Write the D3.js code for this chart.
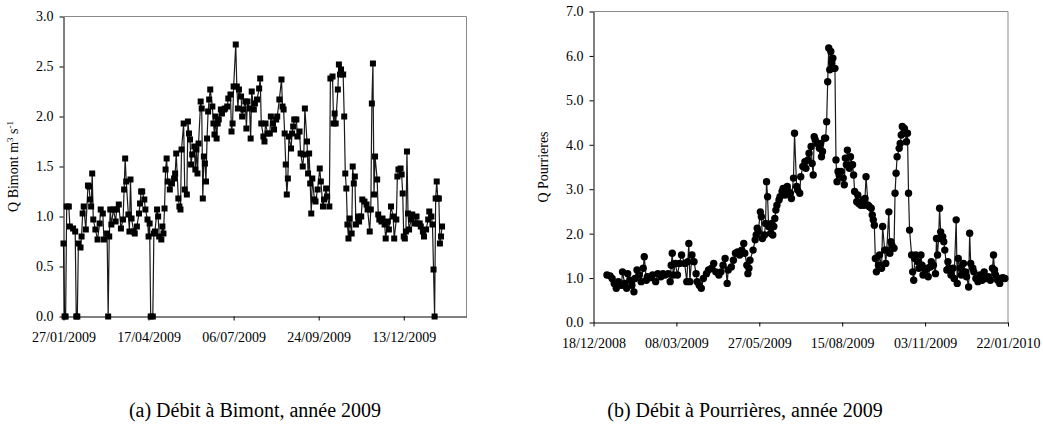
<!DOCTYPE html>
<html><head><meta charset="utf-8">
<script src="https://cdn.jsdelivr.net/npm/d3@7"></script>
<style>
body{margin:0;background:#fff;}
svg text{font-family:"Liberation Serif","Times New Roman",serif;fill:#000;}
</style></head><body>
<svg id="c" width="1043" height="432"></svg>
<script>
// ---- Data: Bimont (days since 27/01/2009, discharge m3/s)
const bimontStart = "2009-01-27";
const bimontDay = [0,1,2,3,5,6,9,11,12,13,14,16,17,18,19,21,23,24,25,26,27,28,30,32,34,35,37,38,41,42,43,44,45,47,49,50,52,54,56,57,58,59,61,62,63,64,66,67,69,71,72,73,74,76,77,79,80,81,82,84,85,86,88,89,90,92,93,94,95,96,97,98,100,102,104,105,106,108,109,110,111,113,114,116,117,118,119,120,121,123,124,125,126,127,129,130,131,132,133,134,135,136,137,138,140,141,142,143,144,145,146,148,149,151,152,154,155,157,158,159,160,162,163,164,165,167,168,169,171,172,173,175,176,177,179,180,182,184,185,186,188,189,190,192,
194,195,197,198,200,201,203,205,206,207,208,209,210,211,212,214,215,216,217,219,220,222,223,225,226,227,229,230,231,232,233,234,236,237,239,241,242,244,245,247,248,250,251,253,254,255,256,258,259,260,261,263,264,265,266,267,268,269,271,272,273,274,275,277,278,280,281,283,285,286,288,289,290,291,292,293,295,296,297,299,300,302,303,305,306,308,310,311,313,314,315,317,318,319,320,321,322,323,324,325,327,328,330,332,333,335,336,338,339,341,343,344,346,347,348,349,350,351,352,353,354,355,356];
const bimontQ = [0.73,0,0,1.1,1.1,0.9,0.88,0.85,0,0,0.73,0.69,0.8,1.03,1.1,0.87,1.31,1.3,1.17,1.1,1.43,0.97,0.87,0.77,0.93,1.07,1.03,0.77,0.83,0,0.8,1.07,0.92,1.07,0.95,1.07,1.12,0.88,0.97,1.27,1.58,1.35,1.02,0.85,1.37,0.98,0.85,0.83,0.9,1.03,1.13,1.25,1.25,1.17,1.07,0.97,0.8,0.93,0,0,0.83,0.85,1.07,1.0,0.8,0.77,0.9,0.83,1.08,1.47,1.58,1.35,1.27,1.33,1.38,1.43,1.63,1.18,1.1,1.07,1.67,1.93,1.27,1.22,1.95,1.83,1.77,1.52,1.62,1.7,1.47,1.67,1.43,1.73,2.15,2.08,1.18,1.6,1.53,1.35,1.78,2.05,2.17,2.27,2.1,1.93,1.82,2.0,1.78,1.93,1.97,2.07,2.03,2.07,2.08,2.1,2.18,2.22,1.85,1.93,2.3,2.72,2.3,2.08,2.27,2.2,2.0,2.07,2.15,1.88,2.15,2.08,1.78,2.25,2.07,2.13,2.17,2.28,2.38,1.93,1.8,1.75,1.93,1.83,
1.83,2.0,1.93,1.87,1.97,2.0,2.17,2.37,2.1,2.07,1.83,1.52,1.22,1.38,1.8,1.68,1.83,1.9,1.97,1.97,1.8,1.85,1.63,1.5,1.62,2.08,1.75,1.43,1.63,1.33,1.03,1.38,1.17,1.15,1.27,1.48,1.35,1.1,1.17,1.28,1.2,1.1,2.38,2.4,1.93,2.03,1.93,2.27,2.52,2.42,2.47,2.42,2.0,1.43,1.28,0.92,0.78,0.98,0.83,1.5,1.33,1.4,0.92,1.0,0.95,1.0,1.17,1.15,1.12,1.07,0.85,1.07,2.13,2.53,1.22,1.6,1.37,1.02,0.97,0.95,0.98,0.92,0.78,0.95,0.87,1.1,1.0,0.78,0.97,1.4,1.47,1.48,1.42,1.23,0.8,0.78,0.85,1.65,1.03,0.87,0.97,1.02,0.93,1.0,0.93,0.93,0.9,0.85,0.8,0.87,0.97,1.05,1.0,0.92,0.47,0,1.18,1.35,1.18,1.18,0.73,0.8,0.9];

// ---- Data: Pourrières (days since 18/12/2008, discharge)
const pourrieresStart = "2008-12-18";
const pourrieresDay = [13,16,18,20,22,24,27,28,30,32,33,35,37,39,40,42,44,46,48,49,51,52,55,57,60,62,65,67,69,72,74,75,76,77,79,81,83,85,88,90,91,92,93,95,97,99,100,102,104,106,109,111,114,116,118,121,123,125,127,129,130,133,135,137,139,141,143,145,146,148,149,150,151,154,156,157,158,159,161,162,163,165,166,167,168,169,171,172,173,174,175,176,177,179,180,182,183,185,187,188,190,191,193,194,196,197,199,200,202,204,205,207,208,210,211,212,213,214,216,218,219,220,221,223,224,225,226,227,228,229,230,231,232,233,234,235,236,237,239,241,242,243,244,245,247,248,250,251,252,254,255,256,258,260,261,262,263,265,266,268,269,270,271,272,273,275,276,278,279,281,282,283,285,286,287,288,290,291,292,293,295,296,297,298,299,300,302,303,304,305,307,308,309,310,311,313,314,316,317,318,320,322,323,325,326,328,330,331,332,333,334,335,337,338,339,341,342,343,345,347,348,350,351,352,354,355,357,359,360,362,363,364,366,367,369,371,373,375,377,379,381,383,385,386,387,388,390,392,393,395,397];
const pourrieresQ = [1.07,1.05,0.99,0.88,0.77,0.92,0.84,1.14,0.88,0.77,1.1,0.95,0.84,0.69,0.99,1.18,1.07,0.92,1.22,1.48,0.95,1.03,1.01,1.07,0.92,1.1,1.03,1.1,1.07,1.1,0.92,1.29,1.56,1.07,1.33,1.07,1.33,1.52,1.33,0.92,1.37,1.78,0.92,1.52,1.37,1.1,0.92,0.84,0.77,0.99,1.1,1.18,1.22,1.33,1.14,1.07,1.14,1.29,1.44,0.88,1.18,1.25,1.4,1.56,1.59,1.52,1.63,1.78,1.56,1.29,1.1,1.22,1.4,1.63,1.86,1.97,2.12,2.04,2.49,2.38,1.89,1.97,2.23,3.17,2.83,2.16,2.01,2.23,1.97,2.16,2.34,2.53,2.64,2.76,2.83,2.95,3.02,2.87,3.06,2.95,2.91,2.79,3.25,4.26,3.06,2.98,2.91,3.28,3.51,3.62,3.47,3.66,3.81,3.96,3.58,3.32,4.18,4.11,4.03,3.92,4.03,3.73,3.85,4.15,4.15,4.52,5.42,6.18,5.69,6.1,5.84,5.95,5.72,5.72,3.66,3.17,3.4,3.32,3.4,3.25,3.1,3.7,3.55,3.88,3.47,3.73,3.55,3.32,2.95,2.72,2.87,2.68,2.64,2.76,2.64,2.79,3.28,2.64,2.61,2.57,2.42,2.31,2.19,1.44,1.14,1.29,1.52,1.22,2.16,1.63,1.33,1.63,2.49,1.56,1.82,1.74,1.67,2.91,3.36,3.73,3.92,4.03,4.22,4.41,4.26,4.37,4.07,4.26,2.91,2.08,1.52,1.14,0.95,1.44,1.52,1.37,1.22,1.52,1.29,1.07,1.18,1.22,1.03,1.25,1.37,1.29,1.1,1.89,1.52,1.89,2.57,2.04,1.93,1.82,1.63,1.18,1.37,1.22,1.07,1.22,0.99,2.31,0.88,1.44,1.22,1.07,1.33,1.14,1.03,0.8,2.01,1.33,1.22,1.14,0.99,0.92,1.07,0.95,1.14,0.99,1.03,0.95,1.22,1.52,1.18,1.07,0.95,0.88,0.99,1.01,0.99];

// ---- Axis ticks and texts
const bimontXTicks = ["27/01/2009","17/04/2009","06/07/2009","24/09/2009","13/12/2009"];
const bimontXEnd = "10/02/2010";
const bimontYTicks = [0,0.5,1,1.5,2,2.5,3];
const pourrieresXTicks = ["18/12/2008","08/03/2009","27/05/2009","15/08/2009","03/11/2009","22/01/2010"];
const pourrieresYTicks = [0,1,2,3,4,5,6,7];
const captions = ["(a) Débit à Bimont, année 2009","(b) Débit à Pourrières, année 2009"];

const parseTick = d3.timeParse("%d/%m/%Y");
const parseIso = d3.timeParse("%Y-%m-%d");
const fmtTick = d3.timeFormat("%d/%m/%Y");
const svg = d3.select("#c");
const SERIF = '"Liberation Serif","Times New Roman",serif';

function panel(cfg){
  const x = d3.scaleTime().domain(cfg.xDomain).range([cfg.left, cfg.right]);
  const y = d3.scaleLinear().domain(cfg.yDomain).range([cfg.bottom, cfg.top]);
  const g = svg.append("g");
  g.append("path")
    .attr("d", `M${cfg.left},${cfg.top}H${cfg.right}V${cfg.bottom}`)
    .attr("fill","none").attr("stroke","#8a8a8a").attr("stroke-width",1);
  const start = parseIso(cfg.start);
  const data = cfg.days.map((d,i)=>({date:d3.timeDay.offset(start,d), v:cfg.values[i]}));
  g.append("path").datum(data)
    .attr("d", d3.line().x(d=>x(d.date)).y(d=>y(d.v)))
    .attr("fill","none").attr("stroke","#1a1a1a").attr("stroke-width",1.2);
  if(cfg.marker==="square"){
    g.selectAll("rect.m").data(data).enter().append("rect")
      .attr("x",d=>x(d.date)-3).attr("y",d=>y(d.v)-3)
      .attr("width",6).attr("height",6).attr("fill","#000");
  } else {
    g.selectAll("circle.m").data(data).enter().append("circle")
      .attr("cx",d=>x(d.date)).attr("cy",d=>y(d.v)).attr("r",3.7).attr("fill","#000");
  }
  const xa = g.append("g").attr("transform",`translate(0,${cfg.bottom})`)
    .call(d3.axisBottom(x).tickValues(cfg.xTicks.map(parseTick)).tickFormat(fmtTick)
      .tickSize(4).tickSizeOuter(0).tickPadding(12));
  const ya = g.append("g").attr("transform",`translate(${cfg.left},0)`)
    .call(d3.axisLeft(y).tickValues(cfg.yTicks).tickFormat(d3.format(".1f"))
      .tickSize(4).tickSizeOuter(0).tickPadding(6));
  [xa,ya].forEach(a=>{
    a.attr("font-family",SERIF);
    a.selectAll("path.domain").attr("stroke","#000");
    a.selectAll(".tick line").attr("stroke","#000");
    a.selectAll("text").attr("font-size","14px").style("font-family",SERIF);
  });
  const lbl = g.append("text")
    .attr("transform",`translate(${cfg.labelX},${(cfg.top+cfg.bottom)/2}) rotate(-90)`)
    .attr("text-anchor","middle").attr("font-size","14px").style("font-family",SERIF);
  cfg.label(lbl);
}

panel({
  left:63.5, right:466.5, top:16.5, bottom:316.5,
  xDomain:[parseTick(bimontXTicks[0]), parseTick(bimontXEnd)],
  yDomain:[0,3], xTicks:bimontXTicks, yTicks:bimontYTicks,
  start:bimontStart, days:bimontDay, values:bimontQ, marker:"square",
  labelX:18,
  label:t=>{
    t.append("tspan").text("Q Bimont m");
    t.append("tspan").attr("dy",-5).attr("font-size","9px").text("3");
    t.append("tspan").attr("dy",5).text(" s");
    t.append("tspan").attr("dy",-5).attr("font-size","9px").text("-1");
  }
});

panel({
  left:593.5, right:1008, top:11.5, bottom:322.5,
  xDomain:[parseTick(pourrieresXTicks[0]), parseTick(pourrieresXTicks[pourrieresXTicks.length-1])],
  yDomain:[0,7], xTicks:pourrieresXTicks, yTicks:pourrieresYTicks,
  start:pourrieresStart, days:pourrieresDay, values:pourrieresQ, marker:"circle",
  labelX:548,
  label:t=>{ t.text("Q Pourrieres"); }
});

svg.selectAll("text.cap").data(captions).enter().append("text")
  .attr("class","cap")
  .attr("x",(d,i)=>i===0?255:745).attr("y",417)
  .attr("text-anchor","middle").attr("font-size","20px")
  .style("font-family",SERIF)
  .text(d=>d);
</script>
</body></html>
